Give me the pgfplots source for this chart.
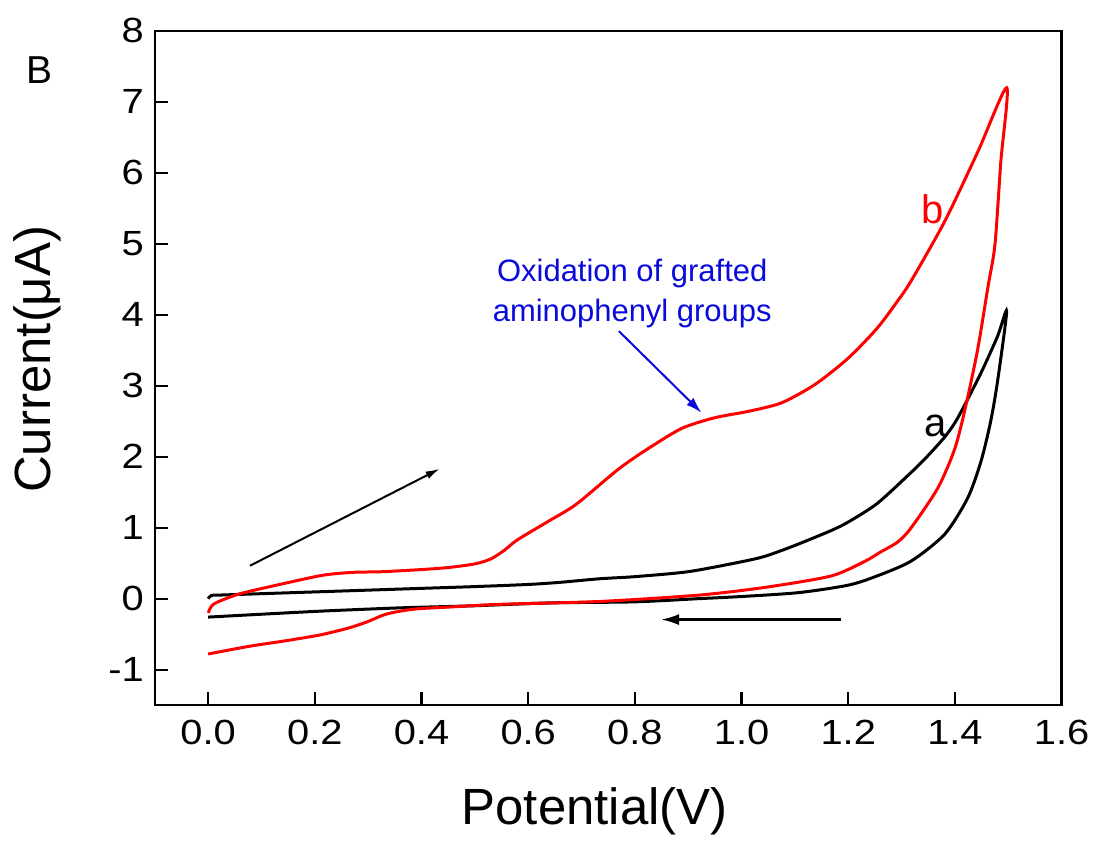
\documentclass[border=0pt]{standalone}
\usepackage{fontspec}
\setmainfont{Liberation Sans}
\newfontfamily\tickfont[FakeStretch=1.14]{Liberation Sans}
\usepackage{pgfplots}
\pgfplotsset{compat=1.18}
\usetikzlibrary{arrows.meta}
\definecolor{annblue}{RGB}{10,10,220}
\definecolor{curvered}{RGB}{255,0,0}
\begin{document}
\begin{tikzpicture}
\begin{axis}[
  scale only axis,
  width=454pt, height=337.5pt,
  xmin=-0.1, xmax=1.6, ymin=-1.5, ymax=8,
  xtick={0,0.2,...,1.6},
  ytick={-1,0,1,2,3,4,5,6,7,8},
  xtick pos=left, ytick pos=left,
  tick align=inside,
  major tick length=6.5pt,
  axis line style={line width=1.2pt},
  every tick/.style={line width=1.1pt, black},
  /pgf/number format/assume math mode=true,
  xticklabel style={/pgf/number format/fixed, /pgf/number format/fixed zerofill, /pgf/number format/precision=1, yshift=-4pt},
  yticklabel style={/pgf/number format/fixed, /pgf/number format/precision=0, xshift=-2pt},
  tick label style={font=\tickfont\fontsize{17.5}{20}\selectfont},
  xlabel={Potential(V)},
  ylabel={Current(μA)},
  label style={font=\fontsize{25.5}{30}\selectfont},
  xlabel style={at={(axis description cs:0.485,-0.157)}, anchor=center},
  ylabel style={at={(axis description cs:-0.129,0.513)}, anchor=center, rotate=0},
  clip=false,
]
% curve a (black)
\addplot[black, line width=1.5pt, smooth, tension=0.45] coordinates {
(0.000,0.00) (0.006,0.045) (0.02,0.05) (0.1,0.07) (0.2,0.095) (0.3,0.12) (0.4,0.145)
(0.5,0.17) (0.6,0.20) (0.66,0.23) (0.733,0.28) (0.8,0.31) (0.9,0.38) (1.0,0.52)
(1.045,0.60) (1.1,0.75) (1.168,0.96) (1.2,1.08) (1.254,1.34) (1.318,1.78)
(1.35,2.02) (1.381,2.28) (1.40,2.48) (1.419,2.74) (1.45,3.20) (1.48,3.70) (1.497,4.05)
(1.48,3.07) (1.467,2.50) (1.449,1.94) (1.424,1.42) (1.381,0.91) (1.318,0.53)
(1.254,0.32) (1.2,0.19) (1.107,0.085) (1.0,0.03) (0.92,0.0) (0.8,-0.045)
(0.64,-0.06) (0.5,-0.10) (0.359,-0.13) (0.2,-0.18) (0.0,-0.26)
};
% curve b (red)
\addplot[curvered, line width=1.5pt, smooth, tension=0.45] coordinates {
(0.0,-0.20) (0.006,-0.11) (0.017,-0.05) (0.06,0.07) (0.14,0.21) (0.215,0.33)
(0.27,0.37) (0.327,0.38) (0.4,0.41) (0.452,0.44) (0.5,0.49) (0.53,0.56) (0.555,0.68)
(0.58,0.83) (0.64,1.10) (0.69,1.33) (0.77,1.83) (0.826,2.12) (0.888,2.40)
(0.95,2.55) (1.013,2.64) (1.075,2.76) (1.138,3.02) (1.2,3.39) (1.254,3.81)
(1.293,4.20) (1.318,4.48) (1.381,5.32) (1.443,6.30) (1.497,7.20)
(1.486,6.16) (1.475,4.99) (1.462,4.40) (1.443,3.53) (1.421,2.74) (1.4,2.12)
(1.368,1.56) (1.318,1.00) (1.293,0.80) (1.26,0.655) (1.232,0.53) (1.168,0.32)
(1.045,0.16) (0.92,0.05) (0.733,-0.04) (0.546,-0.08) (0.46,-0.115) (0.39,-0.145)
(0.35,-0.19) (0.327,-0.235) (0.297,-0.33) (0.265,-0.41) (0.234,-0.47) (0.204,-0.52)
(0.14,-0.60) (0.078,-0.67) (0.0,-0.78)
};
% annotations
\draw[black, line width=1pt, -{Latex[length=7pt,width=4pt]}] (axis cs:0.0785,0.464) -- (axis cs:0.434,1.83);
\draw[black, line width=1.2pt, -{Latex[length=9pt,width=5.5pt]}] (axis cs:1.187,-0.295) -- (axis cs:0.849,-0.295);
\draw[annblue, line width=1pt, -{Latex[length=8pt,width=5pt]}] (axis cs:0.770,3.77) -- (axis cs:0.925,2.62);
\node[annblue, align=center, font=\fontsize{15.5}{20.5}\selectfont] at (axis cs:0.795,4.30) {Oxidation of grafted\\ aminophenyl groups};
\node[curvered, font=\fontsize{20}{24}\selectfont] at (axis cs:1.359,5.49) {b};
\node[black, font=\fontsize{20}{24}\selectfont] at (axis cs:1.364,2.43) {a};
\node[black, font=\fontsize{19.5}{23}\selectfont] at (axis description cs:-0.127,0.942) {B};
\end{axis}
\path ([shift={(-77.5pt,-67.5pt)}]current axis.south west) rectangle ([shift={(16.5pt,15.5pt)}]current axis.north east);
\end{tikzpicture}
\end{document}
